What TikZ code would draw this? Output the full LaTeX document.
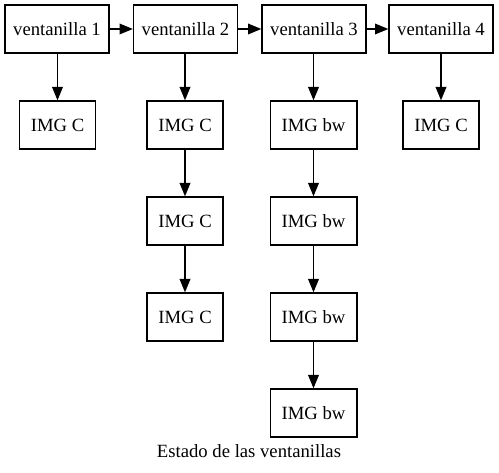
\documentclass[tikz,border=0pt]{standalone}
\usepackage{fontspec}
\setmainfont{Liberation Serif}
\usetikzlibrary{arrows.meta}
\begin{document}
\begin{tikzpicture}[x=0.75pt,y=-0.75pt,
  box/.style={draw,line width=1pt,inner sep=0pt,minimum height=36pt,font=\fontsize{14}{16}\selectfont},
  vbox/.style={box,minimum width=78pt},
  cbox/.style={box,minimum width=57pt},
  bwbox/.style={box,minimum width=65pt},
  conn/.style={draw,line width=1pt,-{Triangle[length=10pt,width=8pt]}}]
\useasboundingbox (0,0) rectangle (499,473);
\node[vbox] (v1) at (57,29) {ventanilla 1};
\node[vbox] (v2) at (185.5,29) {ventanilla 2};
\node[vbox] (v3) at (314,29) {ventanilla 3};
\node[vbox] (v4) at (441,29) {ventanilla 4};
\node[cbox] (c1) at (57.5,125) {IMG C};
\node[cbox] (c2a) at (185,125) {IMG C};
\node[cbox] (c2b) at (185,221) {IMG C};
\node[cbox] (c2c) at (185,317) {IMG C};
\node[bwbox] (b3a) at (313.5,125) {IMG bw};
\node[bwbox] (b3b) at (313.5,221) {IMG bw};
\node[bwbox] (b3c) at (313.5,317) {IMG bw};
\node[bwbox] (b3d) at (313.5,413) {IMG bw};
\node[cbox] (c4) at (441,125) {IMG C};
\node[font=\fontsize{14}{16}\selectfont,inner sep=0pt,anchor=base] (cap) at (249,457) {Estado de las ventanillas};
\draw[conn] (v1) -- (v2);
\draw[conn] (v2) -- (v3);
\draw[conn] (v3) -- (v4);
\draw[conn] (v1.south -| c1) -- (c1);
\draw[conn] (v2.south -| c2a) -- (c2a);
\draw[conn] (c2a) -- (c2b);
\draw[conn] (c2b) -- (c2c);
\draw[conn] (v3.south -| b3a) -- (b3a);
\draw[conn] (b3a) -- (b3b);
\draw[conn] (b3b) -- (b3c);
\draw[conn] (b3c) -- (b3d);
\draw[conn] (v4) -- (c4);
\end{tikzpicture}
\end{document}
